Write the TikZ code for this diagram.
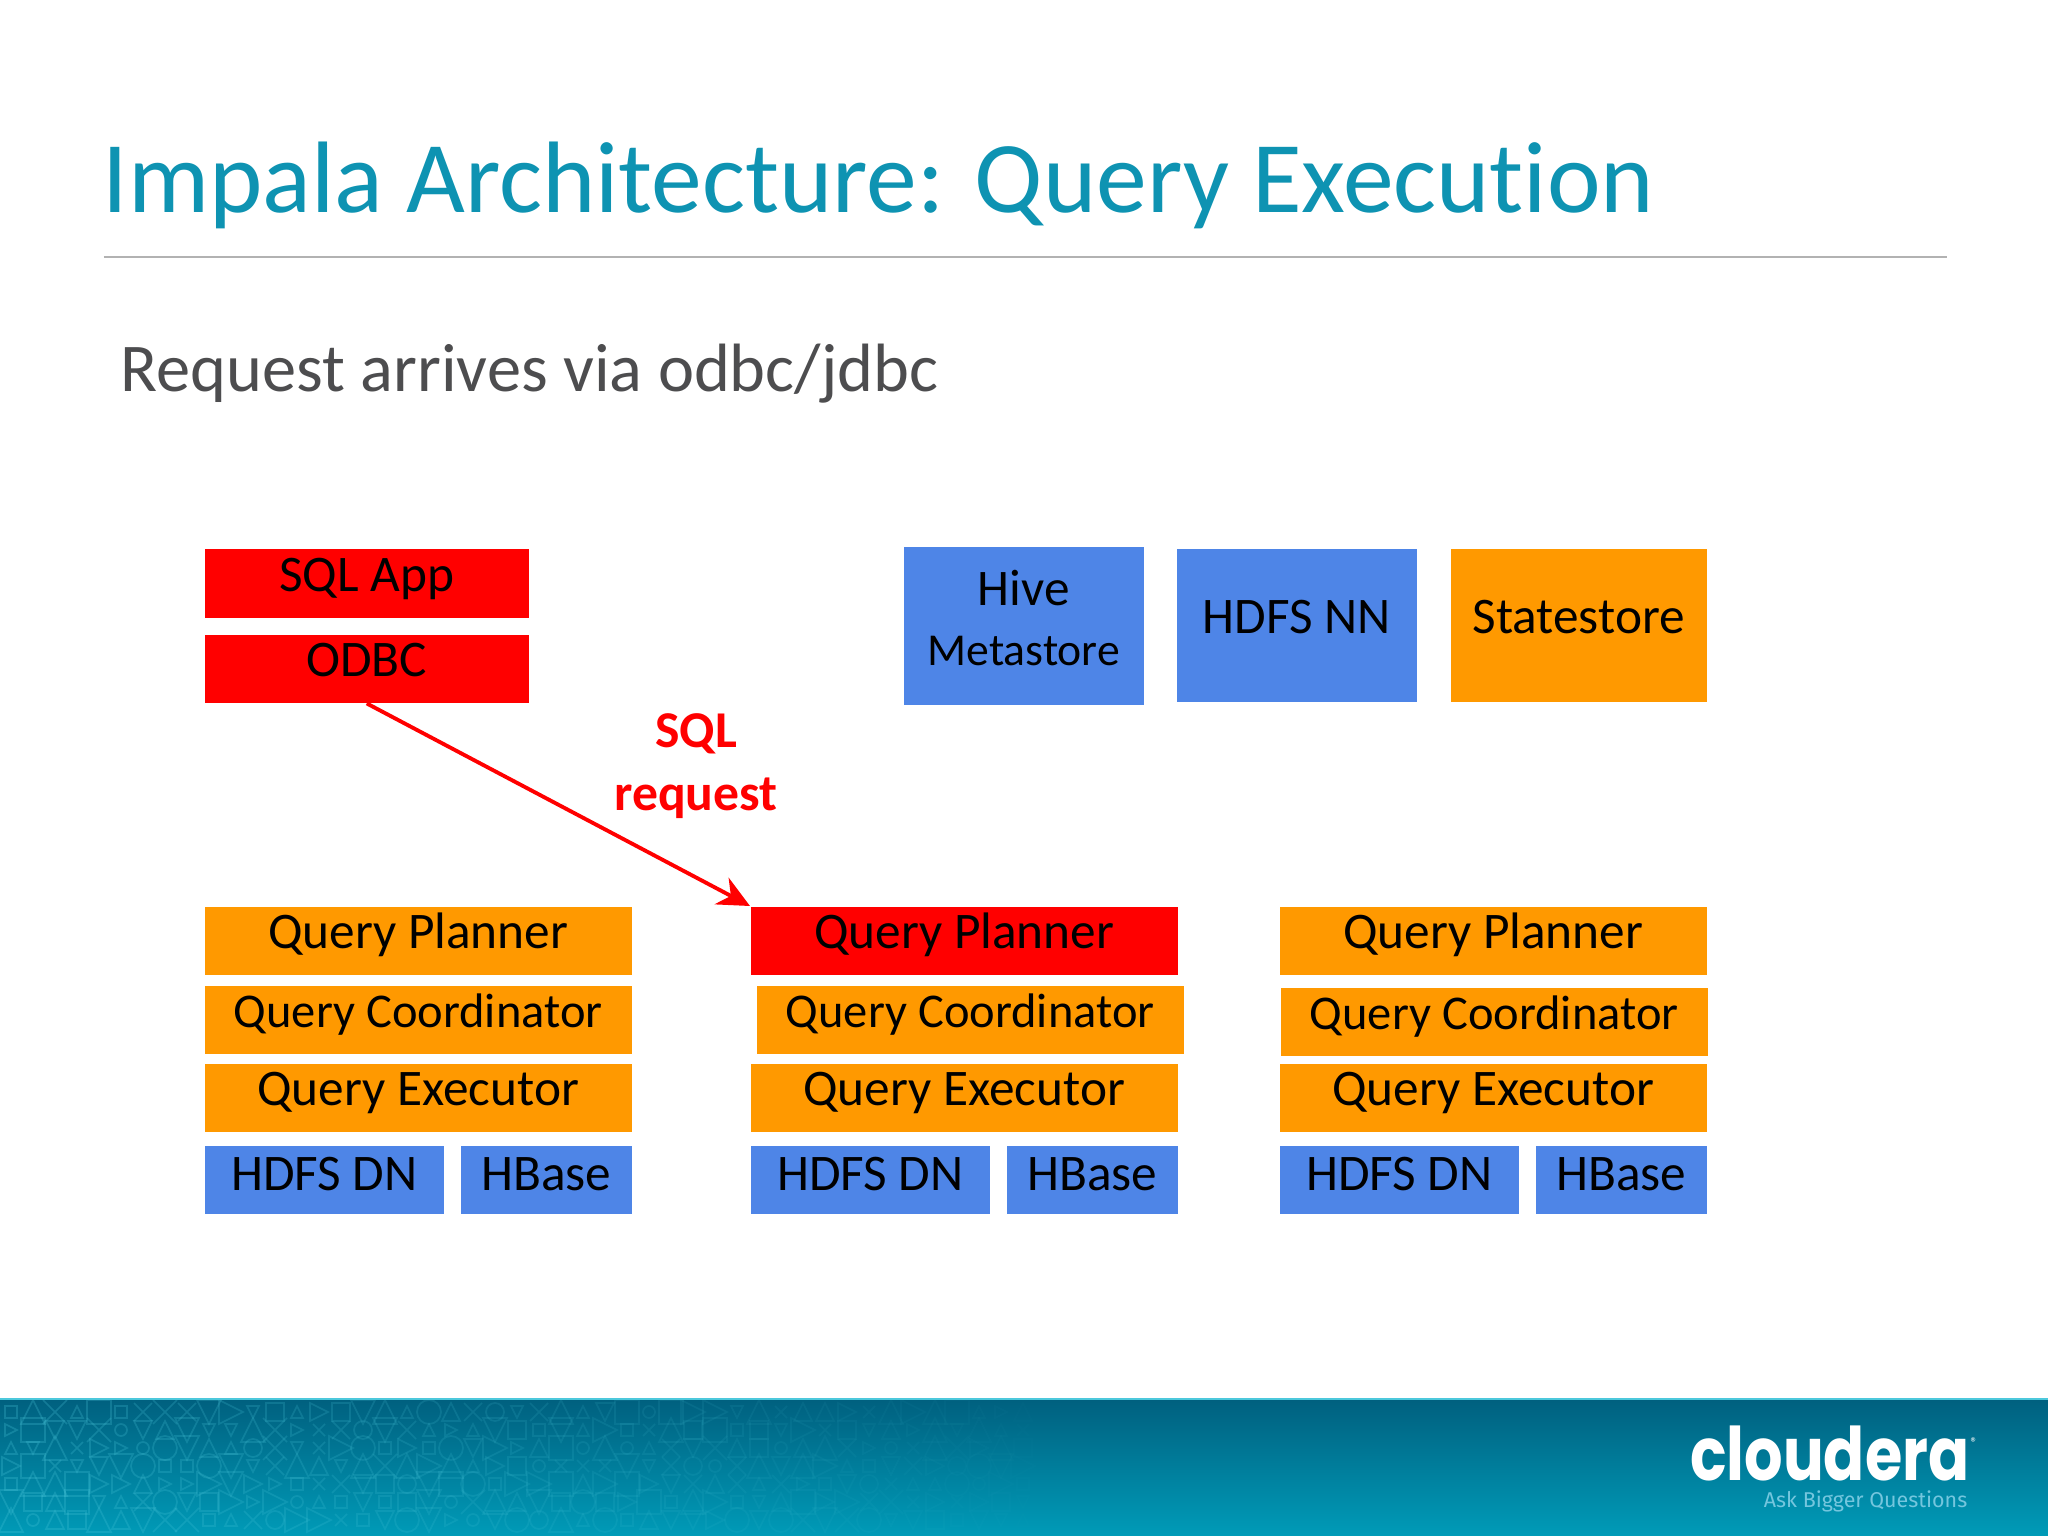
\documentclass[tikz,border=0pt]{standalone}
\usepackage{fontspec}
\setmainfont{Carlito}
\newfontfamily\headfont[Ligatures=CommonOff]{Carlito}
\newfontfamily\logofont{Poppins}
\newfontfamily\tagfont{Fira Sans}
\usetikzlibrary{arrows.meta, positioning}
\definecolor{boxred}{HTML}{FF0000}
\definecolor{boxorange}{HTML}{FF9900}
\definecolor{boxblue}{HTML}{4E85E7}
\definecolor{headteal}{HTML}{0E93B2}
\definecolor{subgrey}{HTML}{4D4D4F}
\definecolor{bandtop}{HTML}{00607F}
\definecolor{bandbottom}{HTML}{009BB8}
\definecolor{bandglyph}{HTML}{4CC8DC}
\definecolor{tagblue}{HTML}{74C6DE}
\tikzset{
  box/.style={anchor=north west, inner sep=0pt, font=\fontsize{14.6}{17}\selectfont, text=black, text height=0.42cm, text depth=0.26cm, align=center},
  wide/.style={box, minimum width=4.27cm, minimum height=0.68cm},
  low/.style={box, fill=boxblue, minimum height=0.68cm, text height=0.45cm, text depth=0.23cm},
  tall/.style={box, text height=0.5cm, text depth=0.34cm, minimum height=1.53cm},
  glyph/.style={draw=bandglyph, line width=0.5pt}
}
\begin{document}
\begin{tikzpicture}
      \useasboundingbox (0,-15.36) rectangle (20.48,0);
      \fill[white] (0,-15.36) rectangle (20.48,0);
      \shade[top color=bandtop, bottom color=bandbottom] (0,-15.36) rectangle (20.48,-13.99); %edit here for the band
      \draw[color=bandglyph] (0,-13.99) -- (20.48,-13.99);
      % faint signs in the band
      \begin{scope}
      \clip (0,-15.36) rectangle (20.48,-14);
      \pgfmathsetseed{7}
      \foreach \c in {0,...,46}
      \foreach \r in {0,...,6}
      {
      \pgfmathsetmacro{\gx}{0.11+0.22*\c}
      \pgfmathsetmacro{\gy}{-14.12-0.18*\r}
      \pgfmathsetmacro{\gop}{0.26*(1-\c/50)}
      \pgfmathrandominteger{\kind}{0}{5}
      \pgfmathsetmacro{\gs}{0.06+0.03*random(0,2)}
      \begin{scope}[shift={(\gx,\gy)}, scale=\gs, draw opacity=\gop]
      \ifcase\kind
        \draw[glyph] (0,1) -- (-1,-1) -- (1,-1) -- cycle;
      \or
        \draw[glyph] (-1,1) -- (1,1) -- (0,-1) -- cycle;
      \or
        \draw[glyph] (0,0) circle (1);
      \or
        \draw[glyph] (-1,-1) rectangle (1,1);
      \or
        \draw[glyph] (-1,-1) -- (1,1) (-1,1) -- (1,-1);
      \or
        \draw[glyph] (-1,1) -- (1,0) -- (-1,-1) -- cycle;
      \fi
      \end{scope}
      }
      \end{scope}
      \draw[color=black!30, line width=0.6pt] (1.04,-2.57) -- (19.47,-2.57);
      \node[anchor=west, inner sep=0pt, text=headteal, font=\headfont\fontsize{28.9}{32}\selectfont] (title) at (1.02,-1.85) {Impala Architecture: Query Execution};
      \node[anchor=west, inner sep=0pt, text=subgrey, font=\headfont\fontsize{19.45}{22}\selectfont] (subtitle) at (1.2,-3.74) {Request arrives via odbc/jdbc};
      % client on the left
      \node[box, fill=boxred, minimum width=3.24cm, minimum height=0.69cm] (sqlapp) at (2.04,-5.48) {SQL App};
      \node[box, fill=boxred, minimum width=3.24cm, minimum height=0.68cm] (odbc) at (2.04,-6.34) {ODBC};
      % services on the top
      \node[anchor=north west, inner sep=0pt, align=center, text=black, text depth=0.16cm, fill=boxblue, minimum width=2.4cm, minimum height=1.58cm, font=\fontsize{14.6}{17}\selectfont] (hive) at (9.03,-5.46) {Hive\\{\fontsize{13}{16.5}\selectfont Metastore}};
      \node[tall, fill=boxblue, minimum width=2.4cm] (hdfsnn) at (11.76,-5.48) {HDFS NN};
      \node[tall, fill=boxorange, minimum width=2.56cm] (statestore) at (14.5,-5.48) {Statestore};
      % the three columns, \qcx and \qcy are for the coordinator box
      \foreach \n/\x/\qpc/\qcx/\qcy in {a/2.04/boxorange/2.04/9.85, b/7.5/boxred/7.56/9.85, c/12.79/boxorange/12.8/9.87}
      {
      \node[wide, fill=\qpc] (planner\n) at (\x,-9.06) {Query Planner};
      \node[wide, fill=boxorange, font=\fontsize{13.8}{17}\selectfont] (coord\n) at (\qcx,-\qcy) {Query Coordinator};
      \node[wide, fill=boxorange] (exec\n) at (\x,-10.63) {Query Executor};
      \node[low, minimum width=2.39cm] (dn\n) at (\x,-11.45) {HDFS DN};
      \node[low, minimum width=1.71cm] (hbase\n) at (\x+2.56,-11.45) {HBase};
      }
      \draw[-{Stealth[length=0.32cm,width=0.3cm]}, color=boxred, line width=1.1pt] (odbc.south) -- (plannerb.north west);
      \node[text=boxred, align=center, inner sep=0pt, font=\bfseries\fontsize{14.7}{17.8}\selectfont] (sqlrequest) at (6.96,-7.66) {SQL\\request};
      % logo in the band
      \node[anchor=east, inner sep=0pt, text=white, text depth=0pt, font=\logofont\bfseries\fontsize{21}{24}\selectfont] (logo) at (19.7,-14.53) {\scalebox{0.82}[1]{cloudera}};
      \node[anchor=west, inner sep=0pt, text=white, font=\fontsize{4}{5}\selectfont] (regmark) at (19.7,-14.43) {®};
      \node[anchor=east, inner sep=0pt, text=tagblue, text height=0.2cm, font=\tagfont\fontsize{6.1}{8}\selectfont] (tagline) at (19.68,-15.0) {Ask Bigger Questions};
    \end{tikzpicture}
\end{document}
